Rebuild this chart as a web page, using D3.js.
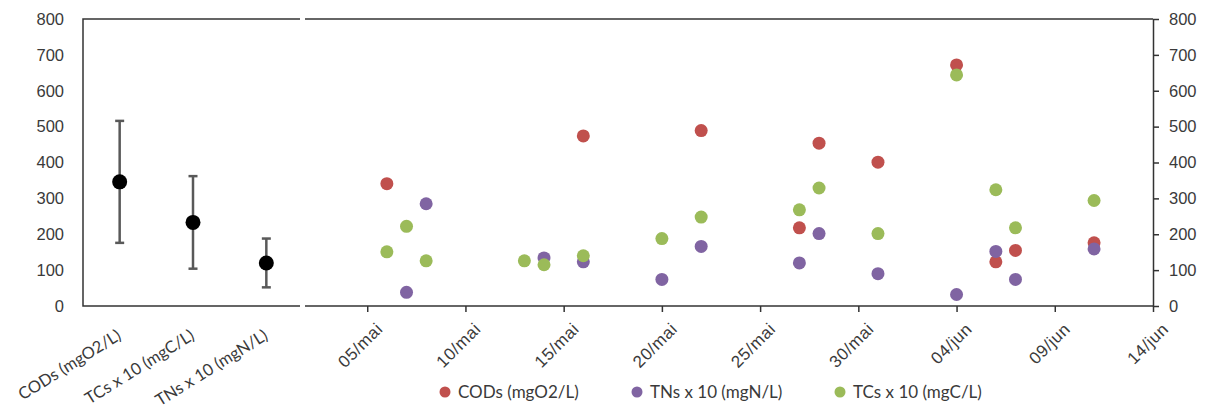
<!DOCTYPE html>
<html>
<head>
<meta charset="utf-8">
<script src="https://cdn.jsdelivr.net/npm/d3@7"></script>
<style>
  body { margin: 0; background: #fff; }
  svg { display: block; font-family: Lato, "Liberation Sans", sans-serif; }
</style>
</head>
<body>
<svg id="chart" width="1210" height="414"></svg>
<script>
'use strict';

// summary panel (mean +/- sd)
var summaryCats = ['CODs (mgO2/L)', 'TCs x 10 (mgC/L)', 'TNs x 10 (mgN/L)'];
var summaryMean = [346, 233, 120];
var summarySd = [170, 129, 68];

// time series panel
var codDates = ['2014-05-06', '2014-05-16', '2014-05-22', '2014-05-27', '2014-05-28', '2014-05-31', '2014-06-04', '2014-06-06', '2014-06-07', '2014-06-11'];
var codValues = [341, 474, 489, 218, 454, 401, 672, 123, 155, 176];

var tnDates = ['2014-05-07', '2014-05-08', '2014-05-14', '2014-05-16', '2014-05-20', '2014-05-22', '2014-05-27', '2014-05-28', '2014-05-31', '2014-06-04', '2014-06-06', '2014-06-07', '2014-06-11'];
var tnValues = [38, 285, 134, 123, 74, 166, 120, 202, 90, 32, 152, 74, 159];

var tcDates = ['2014-05-06', '2014-05-07', '2014-05-08', '2014-05-13', '2014-05-14', '2014-05-16', '2014-05-20', '2014-05-22', '2014-05-27', '2014-05-28', '2014-05-31', '2014-06-04', '2014-06-06', '2014-06-07', '2014-06-11'];
var tcValues = [151, 222, 126, 126, 115, 140, 188, 248, 268, 329, 202, 644, 324, 218, 294];

var tickDates = ['2014-05-05', '2014-05-10', '2014-05-15', '2014-05-20', '2014-05-25', '2014-05-30', '2014-06-04', '2014-06-09', '2014-06-14'];
var tickLabels = ['05/mai', '10/mai', '15/mai', '20/mai', '25/mai', '30/mai', '04/jun', '09/jun', '14/jun'];
var yTicks = [0, 100, 200, 300, 400, 500, 600, 700, 800];

var seriesNames = ['CODs (mgO2/L)', 'TNs x 10 (mgN/L)', 'TCs x 10 (mgC/L)'];
var seriesColors = ['#c0504d', '#8064a2', '#9bbb59'];

var parse = d3.timeParse('%Y-%m-%d');
var svg = d3.select('#chart');
var axisColor = '#333';
var textColor = '#3a3a3a';

var y = d3.scaleLinear().domain([0, 800]).range([306, 19]);

// ---------- right panel ----------
// plot area starts behind the left panel, only the visible part is drawn
var x = d3.scaleTime()
  .domain([parse('2014-04-30'), parse('2014-06-14')])
  .range([269, 1153]);
var rightLeft = 305;
var rightEnd = x.range()[1];

var right = svg.append('g');

right.append('line')
  .attr('x1', rightLeft).attr('x2', rightEnd)
  .attr('y1', y(800)).attr('y2', y(800))
  .attr('stroke', axisColor).attr('stroke-width', 1.5);

right.append('line')
  .attr('x1', rightLeft).attr('x2', rightEnd)
  .attr('y1', y(0)).attr('y2', y(0))
  .attr('stroke', axisColor).attr('stroke-width', 1.5);

var xAxis = d3.axisBottom(x)
  .tickValues(tickDates.map(parse))
  .tickSize(6)
  .tickSizeOuter(0)
  .tickFormat(function(d, i){ return tickLabels[i]; });

var gx = right.append('g')
  .attr('transform', 'translate(0,' + y(0) + ')')
  .call(xAxis);
gx.select('.domain').remove();
gx.selectAll('.tick line').attr('stroke', axisColor).attr('stroke-width', 1.5);
gx.selectAll('.tick text')
  .attr('fill', textColor)
  .style('font-size', '17px')
  .style('letter-spacing', '0.6px')
  .attr('text-anchor', 'end')
  .attr('x', 0).attr('y', 0).attr('dy', '0.75em')
  .attr('transform', 'translate(7,15) rotate(-45)');

var yRight = d3.axisRight(y).tickValues(yTicks).tickSize(6).tickSizeOuter(0).tickPadding(10);
var gyr = right.append('g')
  .attr('transform', 'translate(' + rightEnd + ',0)')
  .call(yRight);
gyr.select('.domain').attr('stroke', axisColor).attr('stroke-width', 1.5);
gyr.selectAll('.tick line').attr('stroke', axisColor).attr('stroke-width', 1.5);
gyr.selectAll('.tick text').attr('fill', textColor).style('font-size', '16.5px');

var series = [
  { dates: codDates, values: codValues },
  { dates: tnDates, values: tnValues },
  { dates: tcDates, values: tcValues }
];

series.forEach(function(s, k){
  var pts = s.dates.map(function(d, i){ return { date: parse(d), value: s.values[i] }; });
  right.append('g').selectAll('circle')
    .data(pts)
    .enter().append('circle')
    .attr('cx', function(d){ return x(d.date); })
    .attr('cy', function(d){ return y(d.value); })
    .attr('r', 6.5)
    .attr('fill', seriesColors[k]);
});

// legend
var legendX = [445, 637, 840];
var legend = svg.append('g').attr('transform', 'translate(0,392)');
seriesNames.forEach(function(name, k){
  legend.append('circle')
    .attr('cx', legendX[k]).attr('cy', 0).attr('r', 5.5)
    .attr('fill', seriesColors[k]);
  legend.append('text')
    .attr('x', legendX[k] + 13).attr('y', 0).attr('dy', '0.35em')
    .attr('fill', textColor)
    .style('font-size', '17px')
    .text(name);
});

// ---------- left panel ----------
var left = svg.append('g');
var xc = d3.scaleBand().domain(summaryCats).range([83, 303]);

left.append('path')
  .attr('d', 'M300,' + y(800) + 'H83V' + y(0) + 'H300')
  .attr('fill', 'none').attr('stroke', axisColor).attr('stroke-width', 1.5);

var gyl = left.append('g')
  .attr('transform', 'translate(83,0)')
  .call(d3.axisLeft(y).tickValues(yTicks).tickSize(0).tickPadding(19));
gyl.select('.domain').remove();
gyl.selectAll('.tick text').attr('fill', textColor).style('font-size', '16.5px');

var sumData = summaryCats.map(function(c, i){
  return { cat: c, mean: summaryMean[i], sd: summarySd[i] };
});

var bars = left.append('g').selectAll('g')
  .data(sumData)
  .enter().append('g')
  .attr('transform', function(d){ return 'translate(' + (xc(d.cat) + xc.bandwidth() / 2) + ',0)'; });

// error bar stems and caps
bars.append('line')
  .attr('y1', function(d){ return y(d.mean + d.sd); })
  .attr('y2', function(d){ return y(d.mean - d.sd); })
  .attr('stroke', '#595959').attr('stroke-width', 2.5);
bars.append('line')
  .attr('x1', -4.5).attr('x2', 4.5)
  .attr('y1', function(d){ return y(d.mean + d.sd); })
  .attr('y2', function(d){ return y(d.mean + d.sd); })
  .attr('stroke', '#595959').attr('stroke-width', 2.5);
bars.append('line')
  .attr('x1', -4.5).attr('x2', 4.5)
  .attr('y1', function(d){ return y(d.mean - d.sd); })
  .attr('y2', function(d){ return y(d.mean - d.sd); })
  .attr('stroke', '#595959').attr('stroke-width', 2.5);
bars.append('circle')
  .attr('cy', function(d){ return y(d.mean); })
  .attr('r', 7.5)
  .attr('fill', '#000');

left.append('g').selectAll('text')
  .data(summaryCats)
  .enter().append('text')
  .attr('text-anchor', 'end')
  .attr('dy', '0.75em')
  .attr('fill', textColor)
  .style('font-size', '16.5px')
  .attr('transform', function(d){ return 'translate(' + (xc(d) + xc.bandwidth() / 2 - 4) + ',328) rotate(-32)'; })
  .text(function(d){ return d; });
</script>
</body>
</html>
